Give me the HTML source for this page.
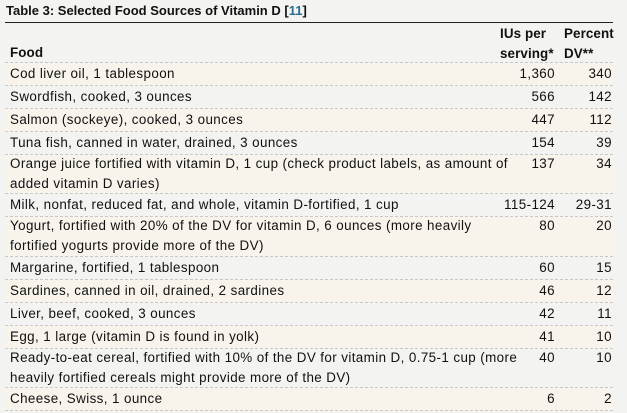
<!DOCTYPE html>
<html><head><meta charset="utf-8"><style>
body{margin:0;width:627px;height:413px;background:#f3f3f1;font-family:"Liberation Sans","DejaVu Sans",sans-serif;font-size:13.4px;letter-spacing:0.4px;color:#111;position:relative;overflow:hidden}
.t{position:absolute;left:6px;top:3px;font-weight:bold;font-size:13px;letter-spacing:0}
.t span{color:#2b6c8e}
.tl{position:absolute;left:5px;width:608px;top:22px;height:1px;background:#222}
.r{position:absolute;left:5px;width:608px;border-bottom:1px dashed #c8c8c8;box-sizing:border-box}
.r.o{background:#f8f4ec}
.f{position:absolute;left:5px;line-height:19.5px;white-space:nowrap}
.a{position:absolute;right:58px;text-align:right;line-height:19.5px;white-space:nowrap}
.b{position:absolute;right:1px;text-align:right;line-height:19.5px;white-space:nowrap}
.h{font-weight:bold;letter-spacing:0.1px}
</style></head><body>
<div class="t">Table 3: Selected Food Sources of Vitamin D [<span>11</span>]</div>
<div class="tl"></div>
<div class="r" style="top:23px;height:40px"><div class="f h" style="top:20px">Food</div><div class="a h" style="top:1px;text-align:left;right:auto;left:495px">IUs per<br>serving*</div><div class="b h" style="top:1px;text-align:left;right:auto;left:559px">Percent<br>DV**</div></div>
<div class="r o" style="top:63px;height:23px"><div class="f" style="top:1px">Cod liver oil, 1 tablespoon</div><div class="a" style="top:1px">1,360</div><div class="b" style="top:1px">340</div></div>
<div class="r" style="top:86px;height:23px"><div class="f" style="top:1px">Swordfish, cooked, 3 ounces</div><div class="a" style="top:1px">566</div><div class="b" style="top:1px">142</div></div>
<div class="r o" style="top:109px;height:23px"><div class="f" style="top:1px">Salmon (sockeye), cooked, 3 ounces</div><div class="a" style="top:1px">447</div><div class="b" style="top:1px">112</div></div>
<div class="r" style="top:132px;height:23px"><div class="f" style="top:1px">Tuna fish, canned in water, drained, 3 ounces</div><div class="a" style="top:1px">154</div><div class="b" style="top:1px">39</div></div>
<div class="r o" style="top:155px;height:39px"><div class="f" style="top:-1px">Orange juice fortified with vitamin D, 1 cup (check product labels, as amount of<br>added vitamin D varies)</div><div class="a" style="top:-1px">137</div><div class="b" style="top:-1px">34</div></div>
<div class="r" style="top:194px;height:23px"><div class="f" style="top:1px">Milk, nonfat, reduced fat, and whole, vitamin D-fortified, 1 cup</div><div class="a" style="top:1px">115-124</div><div class="b" style="top:1px">29-31</div></div>
<div class="r o" style="top:217px;height:40px"><div class="f" style="top:-1px">Yogurt, fortified with 20% of the DV for vitamin D, 6 ounces (more heavily<br>fortified yogurts provide more of the DV)</div><div class="a" style="top:-1px">80</div><div class="b" style="top:-1px">20</div></div>
<div class="r" style="top:257px;height:23px"><div class="f" style="top:1px">Margarine, fortified, 1 tablespoon</div><div class="a" style="top:1px">60</div><div class="b" style="top:1px">15</div></div>
<div class="r o" style="top:280px;height:23px"><div class="f" style="top:1px">Sardines, canned in oil, drained, 2 sardines</div><div class="a" style="top:1px">46</div><div class="b" style="top:1px">12</div></div>
<div class="r" style="top:303px;height:23px"><div class="f" style="top:1px">Liver, beef, cooked, 3 ounces</div><div class="a" style="top:1px">42</div><div class="b" style="top:1px">11</div></div>
<div class="r o" style="top:326px;height:23px"><div class="f" style="top:1px">Egg, 1 large (vitamin D is found in yolk)</div><div class="a" style="top:1px">41</div><div class="b" style="top:1px">10</div></div>
<div class="r" style="top:349px;height:39px"><div class="f" style="top:-1px">Ready-to-eat cereal, fortified with 10% of the DV for vitamin D, 0.75-1 cup (more<br>heavily fortified cereals might provide more of the DV)</div><div class="a" style="top:-1px">40</div><div class="b" style="top:-1px">10</div></div>
<div class="r o" style="top:388px;height:23px"><div class="f" style="top:1px">Cheese, Swiss, 1 ounce</div><div class="a" style="top:1px">6</div><div class="b" style="top:1px">2</div></div>
</body></html>
